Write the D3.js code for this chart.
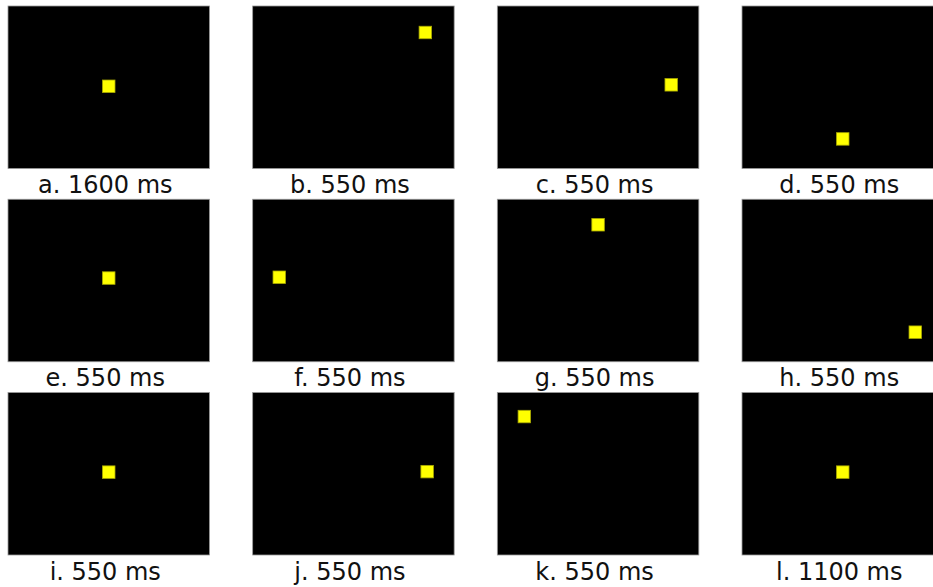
<!DOCTYPE html>
<html>
<head>
<meta charset="utf-8">
<script src="https://cdn.jsdelivr.net/npm/d3@7"></script>
<style>
html,body{margin:0;padding:0;background:#fff;overflow:hidden;}
svg{display:block;}
</style>
</head>
<body>
<svg id="chart" width="933" height="587"></svg>
<script>
// Panel labels and durations
const letters = ["a","b","c","d","e","f","g","h","i","j","k","l"];
const durations = [1600,550,550,550,550,550,550,550,550,550,550,1100];
// Target position on the screen (fraction of screen width / height)
const targetX = [0.50,0.857,0.863,0.50,0.50,0.132,0.50,0.86,0.50,0.866,0.134,0.50];
const targetY = [0.494,0.163,0.485,0.818,0.485,0.48,0.157,0.818,0.49,0.487,0.148,0.49];

const nCols = 4, nRows = 3;
const panelW = 201.5, panelH = 162.5, sq = 12.5;

const svg = d3.select("#chart");
const colScale = d3.scaleLinear().domain([0, nCols-1]).range([8, 742]);
const rowScale = d3.scaleLinear().domain([0, nRows-1]).range([6, 392.5]);
const sx = d3.scaleLinear().domain([0,1]).range([0, panelW]);
const sy = d3.scaleLinear().domain([0,1]).range([0, panelH]);

const data = letters.map((l,i)=>({l, d:durations[i], x:targetX[i], y:targetY[i], c:i%nCols, r:Math.floor(i/nCols)}));

const g = svg.selectAll("g.panel").data(data).join("g")
  .attr("class","panel")
  .attr("transform", d=>`translate(${colScale(d.c)},${rowScale(d.r)})`);

g.append("rect")
  .attr("x",0).attr("y",0)
  .attr("width",panelW).attr("height",panelH)
  .attr("fill","#000").attr("stroke","#9a9a9a").attr("stroke-width",0.8);

g.append("rect")
  .attr("x",d=>sx(d.x)-sq/2).attr("y",d=>sy(d.y)-sq/2)
  .attr("width",sq).attr("height",sq)
  .attr("fill","#ffff00").attr("stroke","#a8a800").attr("stroke-width",0.8);

g.append("text")
  .attr("x",panelW/2-3.5).attr("y",187)
  .attr("text-anchor","middle")
  .attr("font-family","DejaVu Sans")
  .attr("font-size",24)
  .attr("fill","#111")
  .text(d=>`${d.l}. ${d.d} ms`);
</script>
</body>
</html>
